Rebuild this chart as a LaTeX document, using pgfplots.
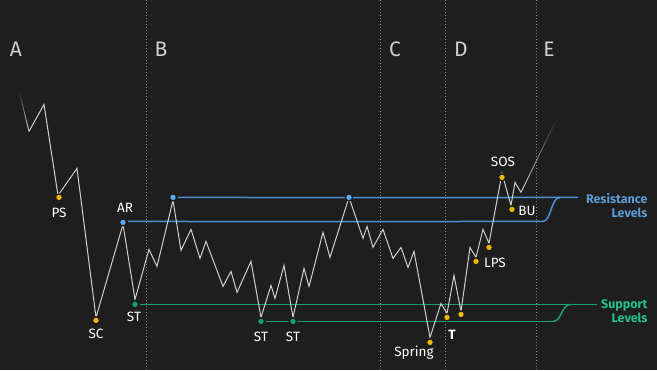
\documentclass[border=0pt]{standalone}
\usepackage{pgfplots}
\pgfplotsset{compat=1.18}
\usepackage{fontspec}
\setmainfont{Fira Sans}
\usetikzlibrary{fadings}
\definecolor{bg}{HTML}{1E1E1E}
\definecolor{pricecol}{HTML}{CFCFCF}
\definecolor{rescol}{HTML}{4A90DA}
\definecolor{restxt}{HTML}{5B9BD5}
\definecolor{supcol}{HTML}{16A070}
\definecolor{suptxt}{HTML}{22C08E}
\definecolor{goldcol}{HTML}{F2B705}
\definecolor{bluedot}{HTML}{5AAAF0}
\definecolor{phasecol}{HTML}{808080}
\definecolor{lettercol}{HTML}{D0D0D0}
\begin{document}
\begin{tikzpicture}
\begin{axis}[width=657pt,height=370pt,scale only axis,
  xmin=0,xmax=657,ymin=0,ymax=370,y dir=reverse,
  axis lines=none,ticks=none,clip=false]
\fill[bg] (rel axis cs:0,0) rectangle (rel axis cs:1,1);
% phase separators
\addplot[draw=phasecol,no markers,line width=0.8pt,dash pattern=on 1pt off 2pt] coordinates {(146,0) (146,370)};
\addplot[draw=phasecol,no markers,line width=0.8pt,dash pattern=on 1pt off 2pt] coordinates {(380,0) (380,370)};
\addplot[draw=phasecol,no markers,line width=0.8pt,dash pattern=on 1pt off 2pt] coordinates {(445,0) (445,370)};
\addplot[draw=phasecol,no markers,line width=0.8pt,dash pattern=on 1pt off 2pt] coordinates {(536,0) (536,370)};
% resistance levels
\addplot[draw=rescol,no markers,line width=1.5pt] coordinates {(178,197) (380,197.3) (578,197)};
\addplot[draw=rescol,no markers,line width=1.5pt] coordinates {(128,221) (300,221.3) (543,221)};
\draw[draw=rescol,line width=1.5pt] (axis cs:543,221) .. controls (axis cs:551,221) and (axis cs:551,197) .. (axis cs:560,197);
% support levels
\addplot[draw=supcol,no markers,line width=1.5pt] coordinates {(140,304) (597,304)};
\addplot[draw=supcol,no markers,line width=1.5pt] coordinates {(266,321) (553,321)};
\draw[draw=supcol,line width=1.5pt] (axis cs:553,321) .. controls (axis cs:562,321) and (axis cs:561,304) .. (axis cs:571,304);
% price path
\addplot[draw=pricecol,no markers,line width=1pt,path fading=north] coordinates {(19,90) (29,131)};
\addplot[draw=pricecol,no markers,line width=1pt,line join=miter] coordinates {
(29,131) (44,104) (58,195) (77,168) (96,317) (123,224) (135,299) (149,249) (157,266) (173,200)
(181,250) (191,229) (200,258) (206,241) (223,286) (231,271) (237,292) (251,261) (261,317) (271,285)
(275,298) (284,265) (293,317) (304,268) (309,286) (323,232) (330,257) (349,197) (363,238) (367,226)
(373,247) (383,229) (393,258) (401,247) (408,267) (414,251) (430,337) (441,303) (447,313) (454,275)
(461,311) (470,247) (476,257) (483,229) (489,243) (502,173) (511,205) (515,182) (521,192)};
\addplot[draw=pricecol,no markers,line width=1pt,path fading=north] coordinates {(521,192) (557,118)};
% event dots
\addplot[only marks,mark=*,mark size=3.5pt,mark options={fill=goldcol,draw=bg,line width=1.3pt}] coordinates {
(59,197) (96,320) (430,342) (447,317) (461,314) (476,261) (489,247) (502,177) (512,209)};
\addplot[only marks,mark=*,mark size=3.5pt,mark options={fill=bluedot,draw=bg,line width=1.3pt}] coordinates {
(123,222) (173,197) (349,197)};
\addplot[only marks,mark=*,mark size=3.5pt,mark options={fill=supcol,draw=bg,line width=1.3pt}] coordinates {
(135,304) (261,321) (293,321)};
% labels
\begin{scope}[every node/.style={text=white,font=\fontsize{13.5}{15}\selectfont}]
\node at (axis cs:59,212) {PS};
\node at (axis cs:96,333) {SC};
\node at (axis cs:125,207) {AR};
\node at (axis cs:134,316) {ST};
\node at (axis cs:261,336) {ST};
\node at (axis cs:293,336) {ST};
\node at (axis cs:414,352) {Spring};
\node[font=\fontsize{13.5}{15}\selectfont\bfseries] at (axis cs:452,334) {T};
\node at (axis cs:495,262) {LPS};
\node at (axis cs:503,161) {SOS};
\node at (axis cs:527,211) {BU};
\end{scope}
\node[anchor=east,align=right,text=restxt,font=\fontsize{12.5}{14}\selectfont\bfseries] at (axis cs:651,205) {Resistance\\Levels};
\node[anchor=east,align=right,text=suptxt,font=\fontsize{12.5}{14}\selectfont\bfseries] at (axis cs:651,311) {Support\\Levels};
% phase letters
\begin{scope}[every node/.style={text=lettercol,font=\fontsize{21}{24}\selectfont}]
\node at (axis cs:16,49) {A};
\node at (axis cs:161,49) {B};
\node at (axis cs:395,49) {C};
\node at (axis cs:461,49) {D};
\node at (axis cs:549,49) {E};
\end{scope}
\end{axis}
\end{tikzpicture}
\end{document}
